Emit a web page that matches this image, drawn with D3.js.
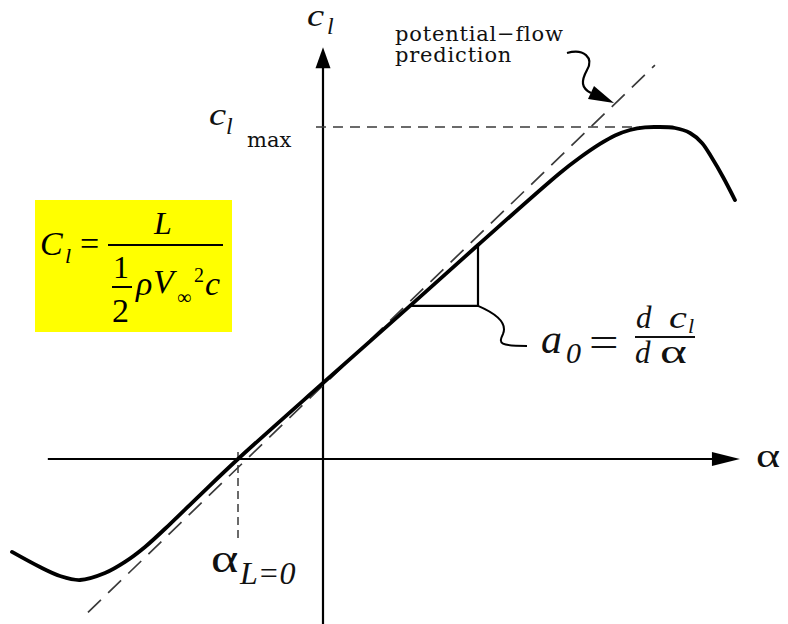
<!DOCTYPE html>
<html>
<head>
<meta charset="utf-8">
<script src="https://cdn.jsdelivr.net/npm/d3@7"></script>
<style>
  html, body { margin: 0; padding: 0; background: #fff; }
  svg { display: block; }
  .serif { font-family: "Liberation Serif", "Times New Roman", serif; }
  .wide { font-family: "DejaVu Serif", serif; }
</style>
</head>
<body>
<svg id="chart" width="788" height="624"></svg>
<script>
// Section lift curve c_l(α): angle of attack in degrees, lift coefficient
const curveAlpha = [-14.635, -13.318, -12.376, -11.435, -10.259, -9.318, -8.376, -7.200, -5.788,
                    -4.0, 0, 4.094, 7.294, 11.153, 12.094, 13.035, 13.741, 14.447, 15.153,
                    15.718, 16.565, 17.271, 17.835, 18.306, 18.824, 19.388];
const curveCl    = [-0.560, -0.651, -0.705, -0.729, -0.687, -0.620, -0.530, -0.392, -0.217,
                    0, 0.458, 0.922, 1.289, 1.723, 1.816, 1.898, 1.949, 1.982, 1.998,
                    2.0, 1.994, 1.964, 1.904, 1.813, 1.699, 1.560];

// Potential-flow (thin airfoil) straight line
const potentialAlpha = [-11.06, 15.62];
const potentialCl    = [-0.924, 2.373];

// Characteristic values
const clMax = 2.0;
const clMaxLineAlpha = [-0.33, 14.92];
const alphaZeroLift = -4.0;
const zeroLiftMarkCl = [0.042, -0.476];
const slopeAlpha = [4.094, 7.294];   // run of the slope triangle
const slopeCl    = [0.922, 1.289];   // rise of the slope triangle

// Axis extents
const alphaAxis = [-12.95, 19.62];
const clAxis    = [-1.0, 2.48];

// Labels
const labelCl = ["c", "l"];
const labelClMax = ["c", "l", "max"];
const labelAlpha = "α";
const labelZeroLift = ["α", "L=0"];
const labelPotential = ["potential−flow", "prediction"];

const svg = d3.select("#chart");
const x = d3.scaleLinear().domain([-15, 20]).range([4.25, 748]);
const y = d3.scaleLinear().domain([-1, 2.5]).range([625, 44]);

const ink = "#000";
const dashInk = "#3a3a3a";

// Lift-formula box
const box = svg.append("g");
box.append("rect").attr("x", 35).attr("y", 200).attr("width", 197).attr("height", 132)
  .attr("fill", "#ffff00");
const bt = (tx, ty, s, size, italic, cls) => box.append("text")
  .attr("class", cls || "serif").attr("x", tx).attr("y", ty)
  .attr("font-size", size).attr("font-style", italic ? "italic" : "normal")
  .attr("fill", ink).text(s);
bt(40, 255, "C", 34, true);
bt(65, 263, "l", 22, true);
bt(80, 255, "=", 34, false);
bt(154, 234, "L", 32, true);
box.append("line").attr("x1", 108).attr("x2", 223).attr("y1", 245).attr("y2", 245)
  .attr("stroke", ink).attr("stroke-width", 2);
bt(113, 278, "1", 32, false);
box.append("line").attr("x1", 112).attr("x2", 132).attr("y1", 287).attr("y2", 287)
  .attr("stroke", ink).attr("stroke-width", 2);
bt(112, 322, "2", 34, false);
bt(136, 295, "ρ", 34, true);
bt(153, 293, "V", 34, true);
bt(177, 304, "∞", 20, false);
bt(194, 282, "2", 20, false);
bt(205, 295, "c", 34, true);

// Axes
const axes = svg.append("g").attr("stroke", ink).attr("stroke-width", 2.2);
axes.append("line").attr("x1", x(alphaAxis[0])).attr("x2", x(alphaAxis[1]) - 10)
  .attr("y1", y(0)).attr("y2", y(0));
axes.append("line").attr("x1", x(0)).attr("x2", x(0))
  .attr("y1", y(clAxis[0])).attr("y2", y(clAxis[1]) + 10);
svg.append("path").attr("fill", ink)
  .attr("d", `M${x(alphaAxis[1])},${y(0)} L${x(alphaAxis[1]) - 28},${y(0) - 7} L${x(alphaAxis[1]) - 28},${y(0) + 7} Z`);
svg.append("path").attr("fill", ink)
  .attr("d", `M${x(0)},${y(clAxis[1])} L${x(0) - 7.5},${y(clAxis[1]) + 21} L${x(0) + 7.5},${y(clAxis[1]) + 21} Z`);

// c_l max reference line
svg.append("line")
  .attr("x1", x(clMaxLineAlpha[0])).attr("x2", x(clMaxLineAlpha[1]))
  .attr("y1", y(clMax)).attr("y2", y(clMax))
  .attr("stroke", dashInk).attr("stroke-width", 1.5).attr("stroke-dasharray", "10,7");

// zero-lift angle marker
svg.append("line")
  .attr("x1", x(alphaZeroLift)).attr("x2", x(alphaZeroLift))
  .attr("y1", y(zeroLiftMarkCl[0])).attr("y2", y(zeroLiftMarkCl[1]))
  .attr("stroke", dashInk).attr("stroke-width", 1.5).attr("stroke-dasharray", "8,5");

// Potential-flow prediction (dashed straight line)
svg.append("line")
  .attr("x1", x(potentialAlpha[0])).attr("y1", y(potentialCl[0]))
  .attr("x2", x(potentialAlpha[1])).attr("y2", y(potentialCl[1]))
  .attr("stroke", dashInk).attr("stroke-width", 1.7).attr("stroke-dasharray", "18,10");

// Slope triangle
svg.append("path")
  .attr("d", `M${x(slopeAlpha[0])},${y(slopeCl[0])} L${x(slopeAlpha[1])},${y(slopeCl[0])} L${x(slopeAlpha[1])},${y(slopeCl[1])}`)
  .attr("fill", "none").attr("stroke", ink).attr("stroke-width", 2.2);

// Measured lift curve
const liftLine = d3.line()
  .x((d, i) => x(curveAlpha[i]))
  .y(d => y(d))
  .curve(d3.curveCatmullRom.alpha(0.5));
svg.append("path").datum(curveCl)
  .attr("d", liftLine)
  .attr("fill", "none").attr("stroke", ink).attr("stroke-width", 3.8)
  .attr("stroke-linecap", "round").attr("stroke-linejoin", "round");

// Leader from slope triangle to the a0 label
const cx = x(slopeAlpha[1]), cy = y(slopeCl[0]);
svg.append("path")
  .attr("d", `M${cx},${cy} C${cx + 14},${cy + 6} ${cx + 30},${cy + 16} ${cx + 25},${cy + 28} C${cx + 20},${cy + 38} ${cx + 22},${cy + 40} ${cx + 49},${cy + 40}`)
  .attr("fill", "none").attr("stroke", ink).attr("stroke-width", 2);

// Leader for the potential-flow label
svg.append("path")
  .attr("d", "M567,53 C584,48 594,58 587,70 C581,81 581,88 591,93")
  .attr("fill", "none").attr("stroke", ink).attr("stroke-width", 2.2);
svg.append("path").attr("d", "M614,103 L588,99 L594,86 Z").attr("fill", ink);

// Text labels
const tx = (px, py, s, size, italic, cls) => svg.append("text")
  .attr("class", cls || "serif").attr("x", px).attr("y", py)
  .attr("font-size", size).attr("font-style", italic ? "italic" : "normal")
  .attr("fill", "#111").text(s);
// glyph stretched horizontally, like the wide math fonts of the figure
const wideGlyph = (px, py, s, size, sx) => svg.append("text")
  .attr("class", "serif")
  .attr("transform", `translate(${px},${py}) scale(${sx},1)`)
  .attr("font-size", size).attr("fill", "#111").text(s);

// c_l at the top of the vertical axis
wideGlyph(x(0) - 16, 26, labelCl[0], 31, 1.25).attr("font-style", "italic");
tx(x(0) + 4, 34, labelCl[1], 24, true);

// c_l max
wideGlyph(209, y(clMax) - 2, labelClMax[0], 31, 1.25).attr("font-style", "italic");
tx(226, y(clMax) + 7, labelClMax[1], 24, true);
tx(247, y(clMax) + 20, labelClMax[2], 21, false, "wide");

// α on the horizontal axis
wideGlyph(756, y(0) + 8, labelAlpha, 34, 1.35);

// α_{L=0}
wideGlyph(x(alphaZeroLift) - 27, 572, labelZeroLift[0], 40, 1.3);
tx(x(alphaZeroLift) + 2, 584, labelZeroLift[1], 32, true);

// potential-flow prediction
tx(395, 41, labelPotential[0], 21, false, "wide").attr("letter-spacing", 0.8);
tx(395, 62, labelPotential[1], 21, false, "wide").attr("letter-spacing", 0.8);

// a0 = d c_l / dα
tx(541, 353, "a", 42, true);
tx(566, 363, "0", 30, true);
wideGlyph(589, 356, "=", 42, 1.25);
svg.append("line").attr("x1", 635).attr("x2", 695).attr("y1", 337).attr("y2", 337)
  .attr("stroke", "#111").attr("stroke-width", 2);
tx(636, 328, "d", 31, true);
wideGlyph(669, 328, "c", 31, 1.3).attr("font-style", "italic");
tx(688, 333, "l", 22, true);
tx(635, 363, "d", 31, true);
wideGlyph(660, 363, "α", 34, 1.5);
</script>
</body>
</html>
